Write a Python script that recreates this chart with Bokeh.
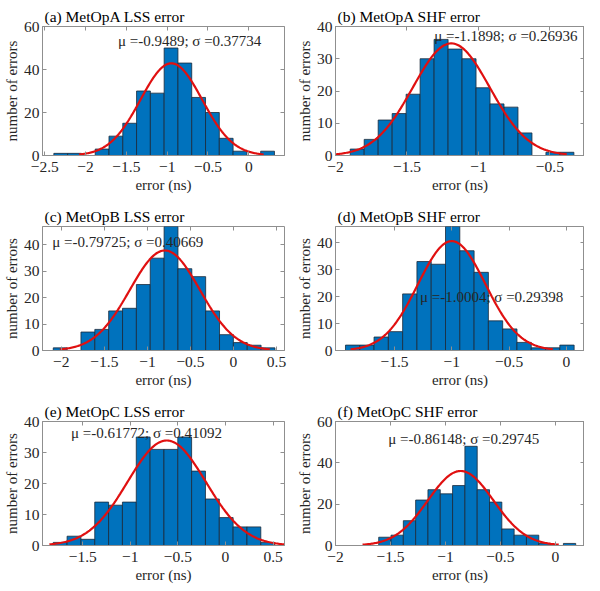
import numpy as np
from bokeh.plotting import figure
from bokeh.models import Label, LinearAxis, FixedTicker, ColumnDataSource, Range1d, CustomJSTickFormatter
from bokeh.layouts import column, row
from bokeh.embed import file_html
from bokeh.resources import INLINE

# ---------------- data ----------------
titles = ["(a) MetOpA LSS error", "(b) MetOpA SHF error",
          "(c) MetOpB LSS error", "(d) MetOpB SHF error",
          "(e) MetOpC LSS error", "(f) MetOpC SHF error"]

bin_start = [-2.389, -1.897, -2.094, -1.927, -1.810, -1.607]
bin_width = [0.169, 0.0978, 0.161, 0.1246, 0.1454, 0.112]

counts_a = [1, 1, 0, 3, 9, 15, 30, 29, 50, 43, 27, 20, 8, 2, 0, 2]
counts_b = [2, 5, 11, 13, 19, 30, 36, 33, 30, 21, 16, 15, 7, 0, 1, 1]
counts_c = [1, 0, 7, 8, 15, 16, 25, 35, 47, 31, 28, 15, 6, 3, 2, 1]
counts_d = [2, 2, 5, 7, 21, 33, 32, 46, 37, 29, 11, 8, 3, 1, 1, 2]
counts_e = [1, 3, 2, 14, 13, 14, 35, 31, 31, 35, 24, 15, 9, 6, 6, 1]
counts_f = [4, 5, 12, 22, 27, 25, 29, 48, 27, 21, 8, 5, 5, 1, 0, 1]
all_counts = [counts_a, counts_b, counts_c, counts_d, counts_e, counts_f]

mu_vals = [-0.9489, -1.1898, -0.79725, -1.0004, -0.61772, -0.86148]
sigma_vals = [0.37734, 0.26936, 0.40669, 0.29398, 0.41092, 0.29745]
stat_labels = ["μ =-0.9489; σ =0.37734", "μ =-1.1898; σ =0.26936",
               "μ =-0.79725; σ =0.40669", "μ =-1.0004; σ =0.29398",
               "μ =-0.61772; σ =0.41092", "μ =-0.86148; σ =0.29745"]
stat_x = [-1.604, -1.31, -2.106, -1.278, -1.623, -1.52]
stat_y = [53.2, 37.2, 41.0, 19.9, 36.2, 51.6]

x_limits = [(-2.528, 0.438), (-2.0, -0.258), (-2.219, 0.593),
            (-2.014, 0.157), (-1.923, 0.62), (-2.0, 0.265)]
y_limits = [(0, 60), (0, 40), (0, 47), (0, 46), (0, 40), (0, 60)]
x_ticks = [[-2.5, -2, -1.5, -1, -0.5, 0], [-2, -1.5, -1, -0.5],
           [-2, -1.5, -1, -0.5, 0, 0.5], [-1.5, -1, -0.5, 0],
           [-1.5, -1, -0.5, 0, 0.5], [-2, -1.5, -1, -0.5, 0]]
y_ticks = [[0, 20, 40, 60], [0, 10, 20, 30, 40], [0, 10, 20, 30, 40],
           [0, 10, 20, 30, 40], [0, 10, 20, 30, 40], [0, 20, 40, 60]]

# ---------------- styling ----------------
FONT = "Liberation Serif"
AX = "#8f8f8f"
TXT = "#262626"
BAR = "#0072BD"
RED = "#e01010"
PW = 249


def make_panel(i, col, h, top_border, bottom_border):
    left_b = 35 if col == 0 else 43
    w = left_b + PW + (8 if col == 0 else 0)
    p = figure(width=w, height=h, output_backend="svg", toolbar_location=None,
               x_range=Range1d(*x_limits[i]), y_range=Range1d(*y_limits[i]),
               min_border_left=left_b, min_border_right=(8 if col == 0 else 0),
               min_border_top=top_border, min_border_bottom=bottom_border,
               background_fill_color="white", border_fill_color="white")
    p.outline_line_color = AX
    p.outline_line_width = 1
    p.grid.visible = False

    p.title.text = titles[i]
    p.title.text_font = FONT
    p.title.text_font_size = "15.5px"
    p.title.text_font_style = "normal"
    p.title.text_color = "#000000"
    p.title.align = "left"
    p.title.offset = 2
    p.title.standoff = 4

    counts = all_counts[i]
    n = len(counts)
    left = [bin_start[i] + k * bin_width[i] for k in range(n)]
    right = [l + bin_width[i] for l in left]
    src = ColumnDataSource(dict(left=left, right=right, top=counts, bottom=[0] * n))
    p.quad(left="left", right="right", top="top", bottom="bottom", source=src,
           fill_color=BAR, line_color="#1b2a3a", line_width=0.8)

    # fitted normal curve (mu +/- 3 sigma), scaled by count * bin width
    mu, sg = mu_vals[i], sigma_vals[i]
    xs = np.linspace(mu - 3 * sg, mu + 3 * sg, 200)
    ys = sum(counts) * bin_width[i] * np.exp(-0.5 * ((xs - mu) / sg) ** 2) / (sg * np.sqrt(2 * np.pi))
    p.line(xs, ys, line_color=RED, line_width=2.2)

    p.add_layout(Label(x=stat_x[i], y=stat_y[i], text=stat_labels[i],
                       text_font=FONT, text_font_size="15px", text_color=TXT,
                       text_baseline="middle", text_align="left"))

    for ax, ticks in ((p.xaxis[0], x_ticks[i]), (p.yaxis[0], y_ticks[i])):
        ax.ticker = FixedTicker(ticks=ticks)
        ax.axis_line_color = AX
        ax.major_tick_line_color = AX
        ax.major_tick_in = 4
        ax.major_tick_out = 0
        ax.minor_tick_line_color = None
        ax.major_label_text_font = FONT
        ax.major_label_text_font_size = "15.5px"
        ax.major_label_text_color = TXT
        ax.axis_label_text_font = FONT
        ax.axis_label_text_font_size = "15px"
        ax.axis_label_text_font_style = "normal"
        ax.axis_label_text_color = TXT
    p.xaxis[0].axis_label = "error (ns)"
    p.xaxis[0].major_label_standoff = 6
    p.xaxis[0].axis_label_standoff = 2
    p.yaxis[0].axis_label = "number of errors"
    p.yaxis[0].major_label_standoff = 3
    p.yaxis[0].axis_label_standoff = 1

    # mirrored ticks on top / right (MATLAB box style)
    for loc, ticks in (("above", x_ticks[i]), ("right", y_ticks[i])):
        a2 = LinearAxis(ticker=FixedTicker(ticks=ticks), axis_line_color=None,
                        major_tick_line_color=AX, major_tick_in=4, major_tick_out=0,
                        minor_tick_line_color=None,
                        formatter=CustomJSTickFormatter(code="return ''"),
                        major_label_standoff=0)
        p.add_layout(a2, loc)
    return p


panels = []
heights = [203, 195, 190]
tops = [26, 18, 18]
bottoms = [48, 48, 43]
for i in range(6):
    r, c = divmod(i, 2)
    panels.append(make_panel(i, c, heights[r], tops[r], bottoms[r]))

layout = column(row(panels[0], panels[1]), row(panels[2], panels[3]),
                row(panels[4], panels[5]))

open("out.html", "w").write(file_html(layout, INLINE))
